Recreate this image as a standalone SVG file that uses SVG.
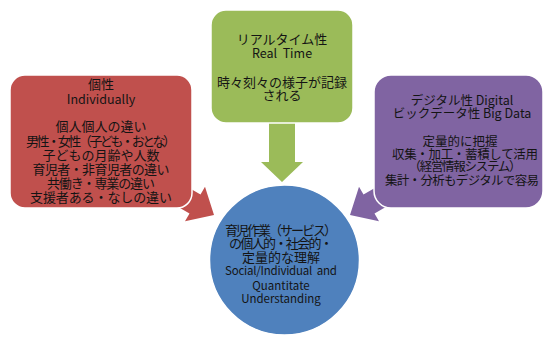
<svg xmlns="http://www.w3.org/2000/svg" width="544" height="339" viewBox="0 0 544 339">
  <style>
    .node-shape { stroke: #ffffff; stroke-width: 1.5; }
    .red { fill: #C0504D; }
    .green { fill: #9BBB59; }
    .purple { fill: #8064A2; }
    .blue { fill: #4F81BD; }
    .arrow { stroke: none; }
    text { font-family: "Noto Sans CJK JP", "Noto Sans", sans-serif; fill: #141414; text-anchor: middle; }
    .jp { font-size: 13px; }
    .en { font-size: 12.5px; }
    .pj { font-size: 12.5px; }
    .cen { font-size: 11.5px; }
  </style>
  <rect width="544" height="339" fill="#ffffff"/>

  <g id="connectors">
    <polygon class="arrow red" points="161.5,172 200.5,194.5 205,186.7 214,215 185,221.3 189.5,213.5 150.5,191"/>
    <polygon class="arrow purple" points="402.5,172 363.5,194.5 359,186.7 350,215 379,221.3 374.5,213.5 413.5,191"/>
    <polygon class="arrow green" points="269,115 295,115 295,162 303,162 282,182 261,162 269,162"/>
  </g>

  <g id="node-individual">
    <rect class="node-shape red" x="10" y="75" width="182" height="133" rx="15" ry="15"/>
    <text class="jp" x="101" y="89">個性</text>
    <text class="en" x="101" y="103.5">Individually</text>
    <text class="jp" x="101" y="131">個人個人の違い</text>
    <text class="jp" x="101" y="145.5" textLength="150">男性・女性（子ども・おとな）</text>
    <text class="jp" x="101" y="160">子どもの月齢や人数</text>
    <text class="jp" x="101" y="174" textLength="137">育児者・非育児者の違い</text>
    <text class="jp" x="101" y="188" textLength="108">共働き・専業の違い</text>
    <text class="jp" x="101" y="202" textLength="142">支援者ある・なしの違い</text>
  </g>

  <g id="node-realtime">
    <rect class="node-shape green" x="211" y="10" width="142" height="113" rx="15" ry="15"/>
    <text class="jp" x="282" y="44">リアルタイム性</text>
    <text class="en" x="282" y="58" style="white-space:pre">Real  Time</text>
    <text class="jp" x="282" y="86.5">時々刻々の様子が記録</text>
    <text class="jp" x="282" y="100">される</text>
  </g>

  <g id="node-digital">
    <rect class="node-shape purple" x="374" y="75" width="169" height="133" rx="17" ry="17"/>
    <text class="pj" x="462" y="105">デジタル性 Digital</text>
    <text class="pj" x="462" y="118">ビックデータ性 Big Data</text>
    <text class="pj" x="460" y="146">定量的に把握</text>
    <text class="pj" x="465" y="158.5" textLength="146">収集・加工・蓄積して活用</text>
    <text class="pj" x="465" y="171" textLength="113">（経営情報システム）</text>
    <text class="pj" x="462" y="184.5" textLength="154">集計・分析もデジタルで容易</text>
  </g>

  <g id="node-understanding">
    <circle class="node-shape blue" cx="284.5" cy="260" r="75"/>
    <text class="jp" x="281" y="234.5" textLength="112">育児作業（サービス）</text>
    <text class="jp" x="281" y="248" textLength="104">の個人的・社会的・</text>
    <text class="jp" x="281" y="262">定量的な理解</text>
    <text class="cen" x="281" y="275" style="white-space:pre" textLength="112">Social/Individual  and</text>
    <text class="cen" x="281" y="290">Quantitate</text>
    <text class="cen" x="281" y="302.5">Understanding</text>
  </g>
</svg>
